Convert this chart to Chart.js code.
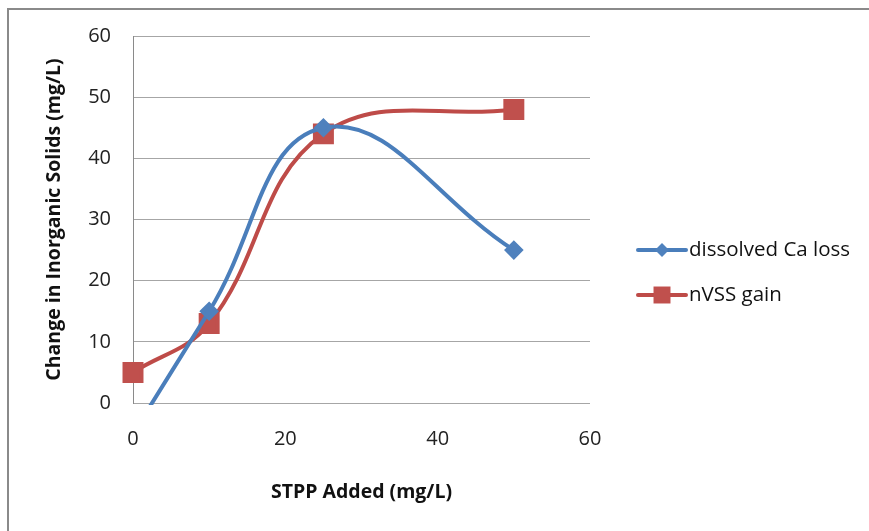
<!DOCTYPE html>
<html>
<head>
<meta charset="utf-8">
<script src="https://cdn.jsdelivr.net/npm/chart.js@4"></script>
<style>
  html, body { margin: 0; padding: 0; background: #fff; }
  #wrap { position: relative; width: 869px; height: 531px; }
</style>
</head>
<body>
<div id="wrap"><canvas id="chart" width="869" height="531"></canvas></div>
<script>
// ---- data ----
const stppAdded = [0, 10, 25, 50];
const caLoss = [-5, 15, 45, 25];
const nvssGain = [5, 13, 44, 48];
const xTicks = [0, 20, 40, 60];
const yTicks = [0, 10, 20, 30, 40, 50, 60];

const seriesLabels = ['dissolved Ca loss', 'nVSS gain'];

const toPoints = (xs, ys) => xs.map((x, i) => ({ x: x, y: ys[i] }));

// outer grey frame (runs off the right and bottom edges)
const framePlugin = {
    id: 'frame',
    beforeDraw(chart) {
        const ctx = chart.ctx;
        ctx.save();
        ctx.strokeStyle = '#8a8a8a';
        ctx.lineWidth = 2;
        ctx.strokeRect(8, 9, chart.width + 20, chart.height + 20);
        ctx.restore();
    }
};

// Excel-style legend: line with marker in the middle
const legendPlugin = {
    id: 'excelLegend',
    afterDraw(chart) {
        const ctx = chart.ctx;
        const area = chart.chartArea;
        const x0 = area.right + 48;
        const y0 = area.top + 214;
        ctx.save();
        chart.data.datasets.forEach((ds, i) => {
            const y = y0 + i * 45;
            const cx = x0 + 24;
            ctx.strokeStyle = ds.borderColor;
            ctx.lineWidth = 4;
            ctx.lineCap = 'round';
            ctx.beginPath();
            ctx.moveTo(x0, y);
            ctx.lineTo(x0 + 48, y);
            ctx.stroke();
            ctx.fillStyle = ds.pointBackgroundColor;
            ctx.beginPath();
            if (ds.pointStyle === 'rect') {
                const s = ds.pointRadius * Math.SQRT1_2;
                ctx.rect(cx - s, y - s, 2 * s, 2 * s);
            } else {
                const r = ds.pointRadius;
                ctx.moveTo(cx, y - r);
                ctx.lineTo(cx + r, y);
                ctx.lineTo(cx, y + r);
                ctx.lineTo(cx - r, y);
                ctx.closePath();
            }
            ctx.fill();
            ctx.fillStyle = '#111';
            ctx.font = '20.5px "Open Sans"';
            ctx.textAlign = 'left';
            ctx.textBaseline = 'middle';
            ctx.fillText(ds.label, x0 + 51, y);
        });
        ctx.restore();
    }
};

new Chart(document.getElementById('chart'), {
    type: 'scatter',
    data: {
        datasets: [
            {
                label: seriesLabels[0],
                data: toPoints(stppAdded, caLoss),
                showLine: true,
                borderColor: '#4A7EBB',
                borderWidth: 4,
                pointStyle: 'rectRot',
                pointRadius: 7,
                pointHoverRadius: 7,
                pointBackgroundColor: '#4F81BD',
                pointBorderColor: '#4F81BD',
                tension: 0.42,
                clip: { left: 20, top: 20, right: 20, bottom: 2 }
            },
            {
                label: seriesLabels[1],
                data: toPoints(stppAdded, nvssGain),
                showLine: true,
                borderColor: '#BE4B48',
                borderWidth: 4,
                pointStyle: 'rect',
                pointRadius: 12,
                pointHoverRadius: 12,
                pointBackgroundColor: '#C0504D',
                pointBorderColor: '#C0504D',
                tension: 0.4,
                clip: false
            }
        ]
    },
    options: {
        responsive: false,
        animation: false,
        layout: { padding: { left: 0, top: 36, right: 279, bottom: 0 } },
        elements: { line: { capBezierPoints: false } },
        plugins: {
            legend: { display: false },
            tooltip: { enabled: false }
        },
        scales: {
            x: {
                type: 'linear',
                min: 0,
                max: 60,
                afterBuildTicks: (scale) => { scale.ticks = xTicks.map(v => ({ value: v })); },
                afterFit: (scale) => { scale.height = 128; },
                grid: { display: false, drawTicks: false },
                border: { display: false },
                ticks: {
                    padding: 24,
                    color: '#222',
                    font: { family: 'Open Sans', size: 20 }
                },
                title: {
                    display: true,
                    text: 'STPP Added (mg/L)',
                    color: '#111',
                    font: { family: 'Open Sans', size: 19.5, weight: 'bold' },
                    padding: { top: 0, bottom: 27 }
                }
            },
            y: {
                min: 0,
                max: 60,
                afterBuildTicks: (scale) => { scale.ticks = yTicks.map(v => ({ value: v })); },
                afterFit: (scale) => { scale.width = 133; },
                grid: { color: '#a6a6a6', lineWidth: 1, drawTicks: false },
                border: { display: true, color: '#8a8a8a', width: 1 },
                ticks: {
                    padding: 22,
                    color: '#222',
                    font: { family: 'Open Sans', size: 20 }
                },
                title: {
                    display: true,
                    text: 'Change in Inorganic Solids (mg/L)',
                    color: '#111',
                    font: { family: 'Open Sans', size: 19.5, weight: 'bold' },
                    padding: { top: 43, bottom: 0 }
                }
            }
        }
    },
    plugins: [framePlugin, legendPlugin]
});
</script>
</body>
</html>
